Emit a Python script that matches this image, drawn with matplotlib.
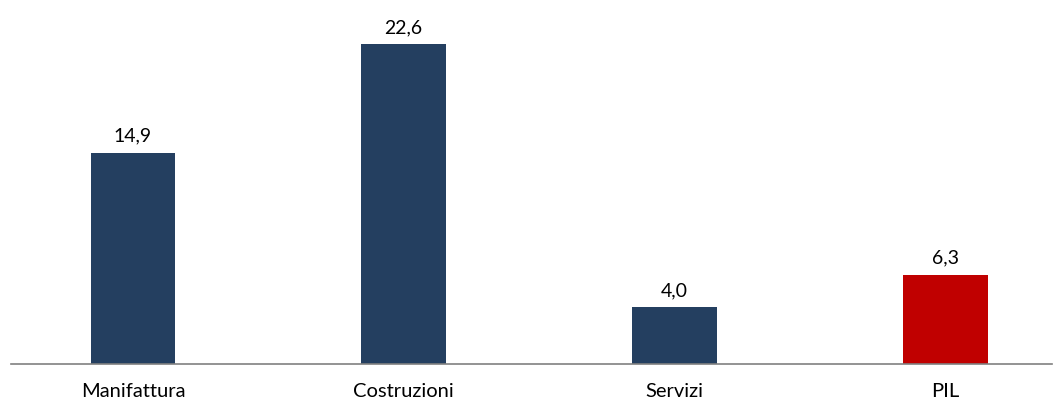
import matplotlib
matplotlib.use("Agg")
import matplotlib.pyplot as plt

categories = ["Manifattura", "Costruzioni", "Servizi", "PIL"]
values = [14.9, 22.6, 4.0, 6.3]
colors = ["#243F60", "#243F60", "#243F60", "#C00000"]
value_labels = ["14,9", "22,6", "4,0", "6,3"]

plt.rcParams['font.family'] = ['Lato', 'DejaVu Sans']

fig = plt.figure(figsize=(10.56, 4.01), dpi=100)
ax = fig.add_axes([0, 37/401, 1, 364/401])
x = list(range(len(categories)))
bars = ax.bar(x, values, width=0.314, color=colors)
ax.set_xlim(-133/270.67, (1056-133)/270.67)
ax.set_ylim(0, 364/14.15)
for b, lab in zip(bars, value_labels):
    ax.annotate(lab, (b.get_x() + b.get_width()/2, b.get_height()),
                xytext=(0, 6), textcoords="offset points",
                ha="center", va="bottom", fontsize=14, color="black")
for s in ["top", "right", "left"]:
    ax.spines[s].set_visible(False)
ax.spines["bottom"].set_color("#808080")
ax.spines["bottom"].set_linewidth(1.2)
ax.spines["bottom"].set_bounds(-122/270.67, (1052-133)/270.67)
ax.set_yticks([])
ax.set_xticks(x)
ax.set_xticklabels(categories, fontsize=14.5)
ax.tick_params(axis="x", length=0, pad=14)
fig.savefig("out.png", dpi=100)
